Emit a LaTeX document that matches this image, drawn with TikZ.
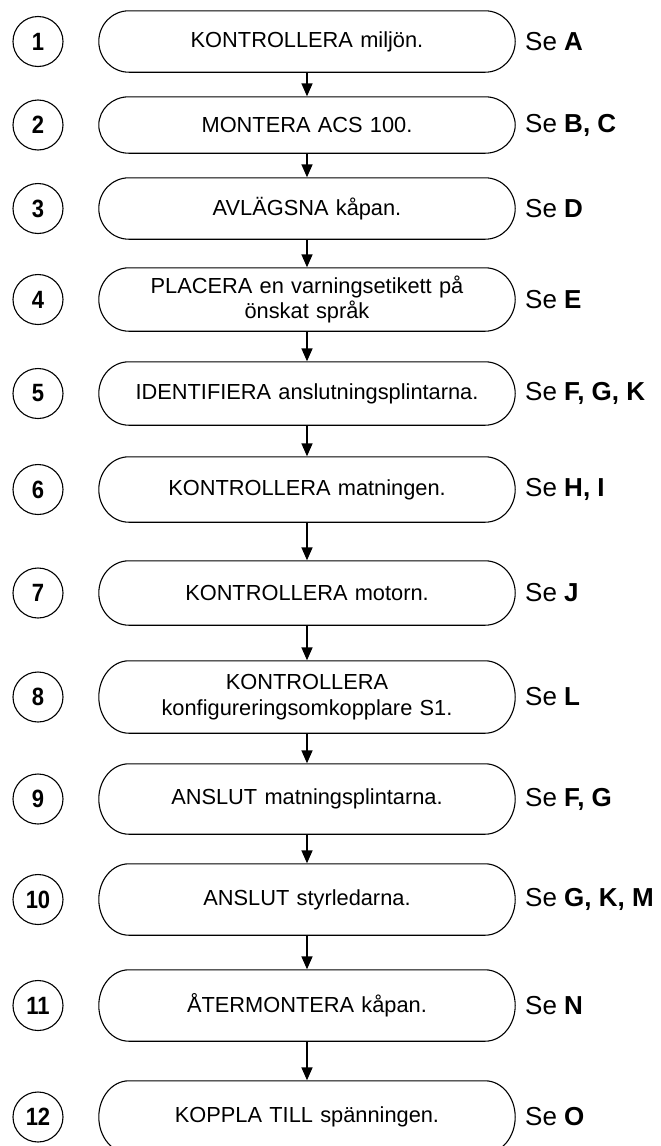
\documentclass[tikz,border=0pt]{standalone}
\usepackage{fontspec}
\setmainfont{Liberation Sans}
\newfontfamily\numfont{Liberation Sans Bold}[FakeStretch=0.88]
\usetikzlibrary{arrows.meta,calc}
\tikzset{
  stepbox/.style={minimum width=416pt,inner sep=0pt,align=center,text width=400pt,
    font=\fontsize{21.8}{25.5}\selectfont},
  outline/.style={draw=black,line width=1.1pt},
  numcircle/.style={circle,draw=black,line width=1.1pt,minimum size=50pt,inner sep=0pt,
    font=\numfont\fontsize{25}{28}\selectfont},
  seelabel/.style={anchor=west,inner sep=0pt,font=\fontsize{26}{30}\selectfont},
  arr/.style={line width=1.6pt,-{Triangle[length=13pt,width=11pt]},shorten >=0.5pt}
}
\begin{document}
\begin{tikzpicture}[x=1pt,y=1pt]
\useasboundingbox (0,0) rectangle (661,-1146);
\foreach \i/\c/\h/\t/\s in {
 1/41.5/61/{KONTROLLERA miljön.}/{\textbf{A}},
 2/125/56/{MONTERA ACS 100.}/{\textbf{B, C}},
 3/208.5/61/{AVLÄGSNA kåpan.}/{\textbf{D}},
 4/299.5/63/{PLACERA en varningsetikett på\\önskat språk}/{\textbf{E}},
 5/393.5/63/{IDENTIFIERA anslutningsplintarna.}/{\textbf{F, G, K}},
 6/489.5/65/{KONTROLLERA matningen.}/{\textbf{H, I}},
 7/593/64/{KONTROLLERA motorn.}/{\textbf{J}},
 8/697/72/{KONTROLLERA\\konfigureringsomkopplare S1.}/{\textbf{L}},
 9/799/70/{ANSLUT matningsplintarna.}/{\textbf{F, G}},
 10/899.5/71/{ANSLUT styrledarna.}/{\textbf{G, K, M}},
 11/1005.5/71/{ÅTERMONTERA kåpan.}/{\textbf{N}},
 12/1117/72/{KOPPLA TILL spänningen.}/{\textbf{O}}}{
  \node[stepbox,minimum height=\h pt] (b\i) at (307,-\c) {\t};
  \node[numcircle] (n\i) at (38,-\c) {\i};
  \node[seelabel] (s\i) at (525,-\c) {Se \s};
  \draw[outline] let \p1=(b\i.north west), \p2=(b\i.south east), \n1={(\y1-\y2)/2} in
    (\x1+30pt,\y1) -- (\x2-30pt,\y1)
    arc[start angle=90,end angle=-90,x radius=30pt,y radius=\n1]
    -- (\x1+30pt,\y2)
    arc[start angle=270,end angle=90,x radius=30pt,y radius=\n1] -- cycle;
}
\foreach \a/\b in {1/2,2/3,3/4,4/5,5/6,6/7,7/8,8/9,9/10,10/11,11/12}{
  \draw[arr] (b\a.south) -- (b\b.north);
}
\end{tikzpicture}
\end{document}
